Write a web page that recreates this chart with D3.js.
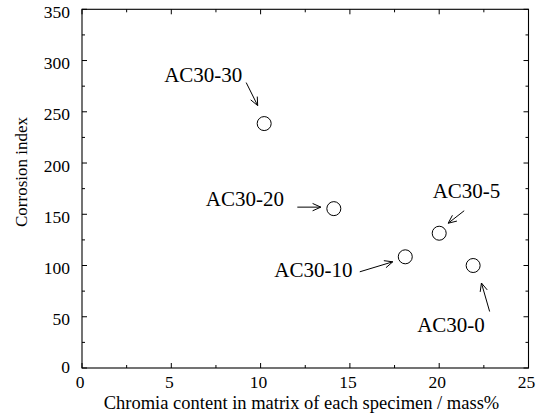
<!DOCTYPE html>
<html>
<head>
<meta charset="utf-8">
<script src="https://cdn.jsdelivr.net/npm/d3@7"></script>
<style>
  html, body { margin: 0; padding: 0; background: #fff; }
  svg { display: block; }
</style>
</head>
<body>
<script>
// ---- data ----
const specimens = ["AC30-30", "AC30-20", "AC30-10", "AC30-5", "AC30-0"];
const chromiaContent = [10.2, 14.1, 18.1, 20.0, 21.9];
const corrosionIndex = [238.5, 155.5, 108.5, 131.5, 100];
const xTicks = [0, 5, 10, 15, 20, 25];
const yTicks = [0, 50, 100, 150, 200, 250, 300, 350];
const xTitle = "Chromia content in matrix of each specimen / mass%";
const yTitle = "Corrosion index";

// ---- layout (pixel offsets of annotations relative to each point) ----
const annotLayout = {
  "AC30-30": { tx: -100, ty: -42, ax1: -18, ay1: -41, ax2: -6.5, ay2: -18 },
  "AC30-20": { tx: -128, ty: -2.5, ax1: -36.5, ay1: -1.5, ax2: -13, ay2: -1.5 },
  "AC30-10": { tx: -131, ty: 20, ax1: -45.5, ay1: 15, ax2: -12.5, ay2: 5 },
  "AC30-5":  { tx: -6.5, ty: -35.5, ax1: 25, ay1: -22.5, ax2: 9, ay2: -10 },
  "AC30-0":  { tx: -56, ty: 66, ax1: 16.5, ay1: 46, ax2: 8.3, ay2: 17.5 }
};

const FONT = "'Liberation Serif', serif";
const W = 536, H = 416;
const L = 82, R = 528.5, T = 9.3, B = 368;

const svg = d3.select("body").append("svg").attr("width", W).attr("height", H);

const x = d3.scaleLinear().domain([0, 25]).range([L, R]);
const y = d3.scaleLinear().domain([0, 350]).range([B, T]);

const xMinor = d3.range(2.5, 25, 5);
const yMinor = d3.range(25, 350, 50);

// frame
svg.append("rect").attr("x", L).attr("y", T).attr("width", R - L).attr("height", B - T)
  .attr("fill", "none").attr("stroke", "#000").attr("stroke-width", 1.1);

// ticks (inward, all four sides)
const tg = svg.append("g").attr("stroke", "#000").attr("stroke-width", 1);
function vt(v, len) {
  tg.append("line").attr("x1", x(v)).attr("x2", x(v)).attr("y1", B).attr("y2", B - len);
  tg.append("line").attr("x1", x(v)).attr("x2", x(v)).attr("y1", T).attr("y2", T + len);
}
function ht(v, len) {
  tg.append("line").attr("y1", y(v)).attr("y2", y(v)).attr("x1", L).attr("x2", L + len);
  tg.append("line").attr("y1", y(v)).attr("y2", y(v)).attr("x1", R).attr("x2", R - len);
}
xTicks.forEach(v => vt(v, 5));
xMinor.forEach(v => vt(v, 3));
yTicks.forEach(v => ht(v, 5));
yMinor.forEach(v => ht(v, 3));

// tick labels
svg.append("g").selectAll("text").data(xTicks).join("text")
  .attr("x", d => x(d) - 2).attr("y", 388).style("font-family", FONT)
  .attr("text-anchor", "middle").attr("font-size", 17.5).text(d => d);
svg.append("g").selectAll("text").data(yTicks).join("text")
  .attr("x", 70).attr("y", d => d === 0 ? y(d) + 5 : y(d) + 8.5).style("font-family", FONT)
  .attr("text-anchor", "end").attr("font-size", 17.5).text(d => d);

// axis titles
svg.append("text").attr("x", (95 + 508) / 2).attr("y", 408.5).style("font-family", FONT)
  .attr("text-anchor", "middle").attr("font-size", 18.5).text(xTitle);
svg.append("text").attr("transform", "translate(27,172) rotate(-90)").style("font-family", FONT)
  .attr("text-anchor", "middle").attr("font-size", 17).text(yTitle);

// points
const pts = specimens.map((s, i) => ({ name: s, cx: x(chromiaContent[i]), cy: y(corrosionIndex[i]) }));
svg.append("g").selectAll("circle").data(pts).join("circle")
  .attr("cx", d => d.cx).attr("cy", d => d.cy).attr("r", 7)
  .attr("fill", "none").attr("stroke", "#000").attr("stroke-width", 1);

// annotations
const ag = svg.append("g");
pts.forEach(p => {
  const a = annotLayout[p.name];
  ag.append("text").attr("x", p.cx + a.tx).attr("y", p.cy + a.ty).style("font-family", FONT)
    .attr("font-size", 21).text(p.name);
  const x1 = p.cx + a.ax1, y1 = p.cy + a.ay1, x2 = p.cx + a.ax2, y2 = p.cy + a.ay2;
  ag.append("line").attr("x1", x1).attr("y1", y1).attr("x2", x2).attr("y2", y2)
    .attr("stroke", "#000").attr("stroke-width", 1);
  const ang = Math.atan2(y2 - y1, x2 - x1);
  const hl = 9, ha = 0.42;
  const path = d3.path();
  path.moveTo(x2 - hl * Math.cos(ang - ha), y2 - hl * Math.sin(ang - ha));
  path.lineTo(x2, y2);
  path.lineTo(x2 - hl * Math.cos(ang + ha), y2 - hl * Math.sin(ang + ha));
  ag.append("path").attr("d", path.toString()).attr("fill", "none")
    .attr("stroke", "#000").attr("stroke-width", 1);
});
</script>
</body>
</html>
